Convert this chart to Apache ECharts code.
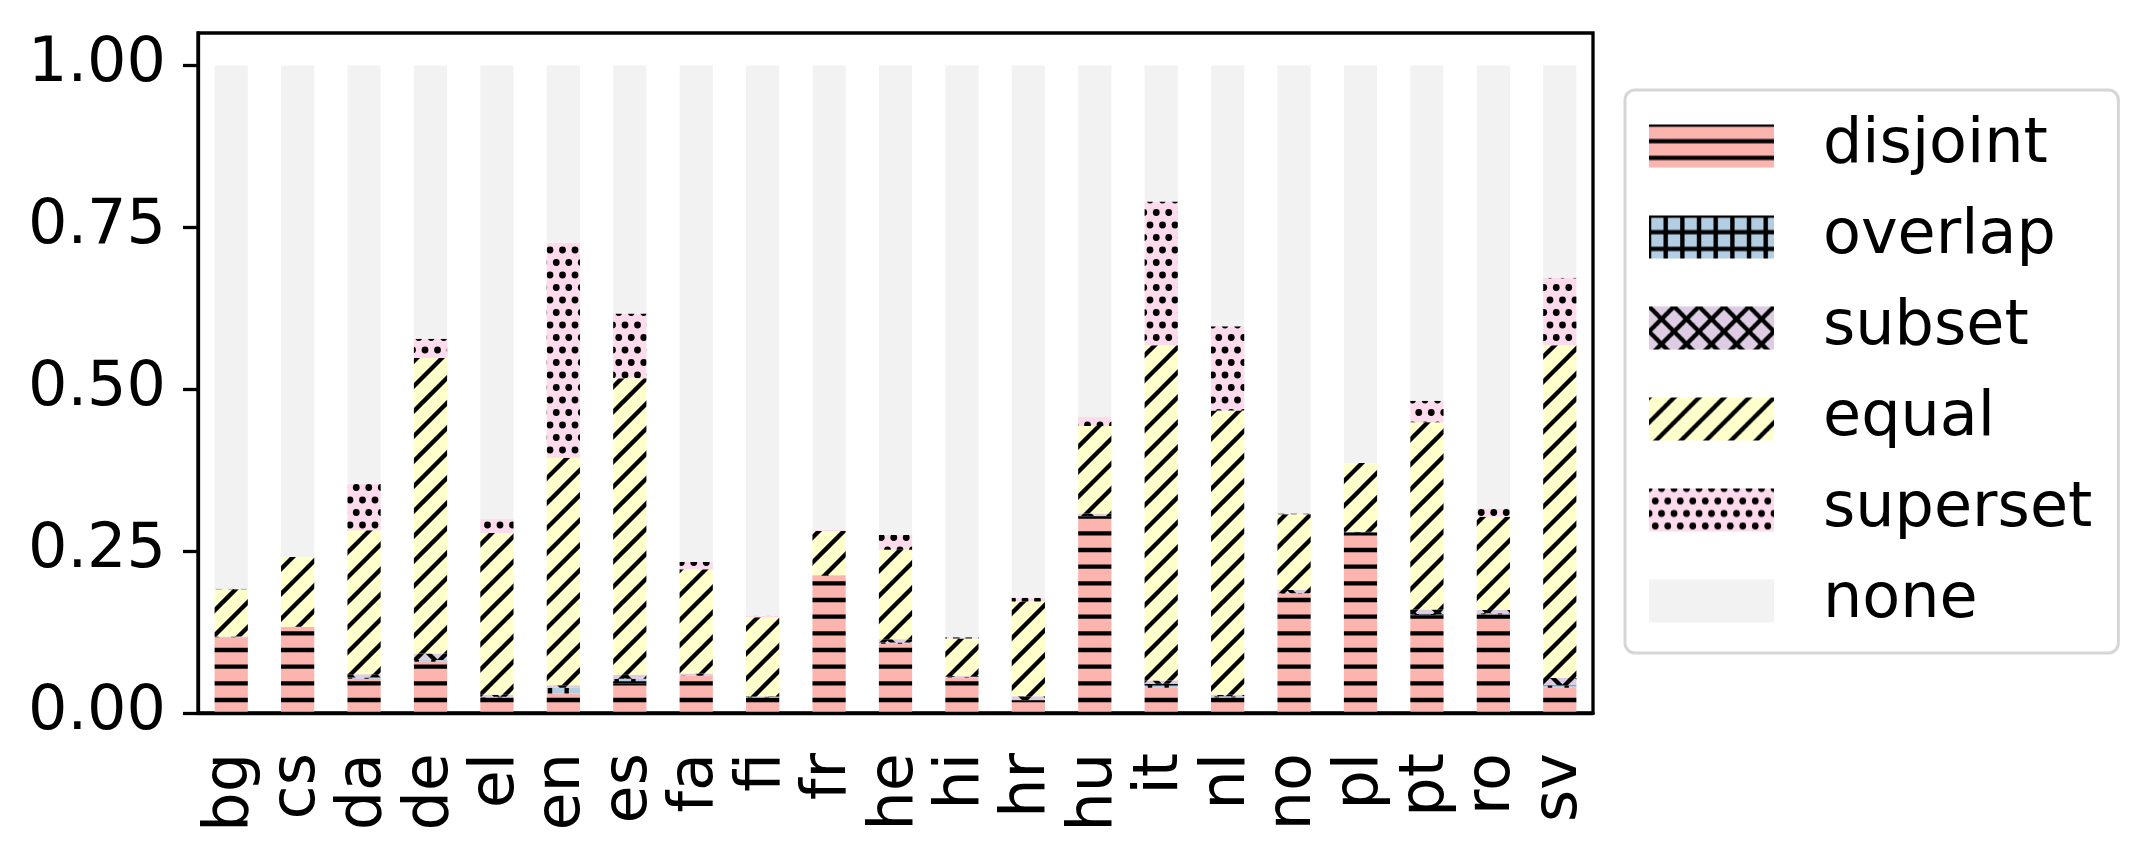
<!DOCTYPE html>
<html><head><meta charset="utf-8">
<script src="https://cdn.jsdelivr.net/npm/echarts@6/dist/echarts.min.js"></script>
<style>html,body{margin:0;padding:0;background:#fff}#c{width:2150px;height:851px}</style>
</head><body><div id="c"></div>
<script>
const categories = ['bg','cs','da','de','el','en','es','fa','fi','fr','he','hi','hr','hu','it','nl','no','pl','pt','ro','sv'];
const disjoint = [0.117,0.133,0.053,0.079,0.024,0.030,0.046,0.057,0.024,0.212,0.107,0.055,0.019,0.303,0.039,0.024,0.184,0.279,0.150,0.152,0.039];
const overlap  = [0.001,0.000,0.002,0.003,0.001,0.009,0.007,0.001,0.001,0.000,0.002,0.001,0.001,0.001,0.006,0.002,0.001,0.000,0.003,0.002,0.004];
const subset   = [0.000,0.000,0.005,0.010,0.003,0.004,0.006,0.003,0.001,0.001,0.005,0.001,0.006,0.004,0.005,0.002,0.005,0.001,0.007,0.005,0.011];
const equal    = [0.073,0.108,0.222,0.456,0.250,0.351,0.458,0.161,0.122,0.068,0.138,0.058,0.146,0.135,0.518,0.439,0.117,0.106,0.289,0.144,0.514];
const superset = [0.001,0.000,0.072,0.030,0.022,0.332,0.100,0.011,0.002,0.002,0.023,0.002,0.006,0.014,0.222,0.130,0.001,0.000,0.033,0.012,0.104];
const none     = [0.808,0.759,0.646,0.422,0.700,0.274,0.383,0.767,0.850,0.717,0.725,0.883,0.822,0.543,0.210,0.403,0.692,0.614,0.518,0.685,0.328];
const seriesNames = ['disjoint','overlap','subset','equal','superset','none'];
const yTicks = [0, 0.25, 0.5, 0.75, 1.0];

const FONT = 'DejaVu Sans';
const LW = 4.4;

function tile(size, bg, draw) {
  const c = document.createElement('canvas');
  c.width = size; c.height = size;
  const g = c.getContext('2d');
  g.fillStyle = bg; g.fillRect(0, 0, size, size);
  g.strokeStyle = '#000'; g.fillStyle = '#000'; g.lineWidth = LW; g.lineCap = 'square';
  draw(g, size);
  return { image: c, repeat: 'repeat' };
}
function hLines(g, s, step) {
  for (let y = 0; y <= s + 0.01; y += step) { g.beginPath(); g.moveTo(-5, y); g.lineTo(s + 5, y); g.stroke(); }
}
function vLines(g, s, step) {
  for (let x = 0; x <= s + 0.01; x += step) { g.beginPath(); g.moveTo(x, -5); g.lineTo(x, s + 5); g.stroke(); }
}
function neLines(g, s, step) {
  for (let k = -2; k * step <= s + step; k++) {
    const x0 = k * step;
    g.beginPath(); g.moveTo(x0 - s, 2 * s); g.lineTo(x0 + 2 * s, -s); g.stroke();
  }
}
function nwLines(g, s, step) {
  for (let k = -2; k * step <= s + step; k++) {
    const x0 = k * step;
    g.beginPath(); g.moveTo(x0 - s, -s); g.lineTo(x0 + 2 * s, 2 * s); g.stroke();
  }
}

const patterns = {
  disjoint: tile(50, '#fbb4ae', (g, s) => hLines(g, s, 50 / 3)),
  overlap: tile(50, '#b3cde3', (g, s) => { hLines(g, s, 50 / 3); vLines(g, s, 50 / 3); }),
  subset: tile(50, '#decbe4', (g, s) => { neLines(g, s, 25); nwLines(g, s, 25); }),
  equal: tile(50, '#ffffcc', (g, s) => neLines(g, s, 25)),
  superset: tile(25, '#fddaec', (g, s) => {
    const pts = [[0,0],[12.5,0],[25,0],[6.25,12.5],[18.75,12.5],[0,25],[12.5,25],[25,25]];
    pts.forEach(p => { g.beginPath(); g.arc(p[0], p[1], 3.4, 0, Math.PI * 2); g.fill(); });
  }),
  none: '#f2f2f2'
};
const values = { disjoint, overlap, subset, equal, superset, none };

const chart = echarts.init(document.getElementById('c'), null, { renderer: 'canvas' });
chart.setOption({
  animation: false,
  backgroundColor: '#fff',
  grid: { left: 198, right: 557, top: 33, bottom: 138, show: true, borderColor: '#000', borderWidth: 3.3, backgroundColor: 'transparent' },
  xAxis: {
    type: 'category', data: categories, boundaryGap: true, z: 10,
    axisLine: { lineStyle: { color: '#000', width: 3.3 } },
    axisTick: { alignWithLabel: true, length: 15, lineStyle: { color: '#000', width: 3.3 } },
    axisLabel: { rotate: 90, margin: 40, fontSize: 62, fontFamily: FONT, color: '#000', interval: 0 }
  },
  yAxis: {
    type: 'value', min: 0, max: 1.05, z: 10,
    axisLine: { show: true, lineStyle: { color: '#000', width: 3.3 } },
    axisTick: { show: true, length: 15, customValues: yTicks, lineStyle: { color: '#000', width: 3.3 } },
    axisLabel: { customValues: yTicks, formatter: v => v.toFixed(2), margin: 32, fontSize: 62, fontFamily: FONT, color: '#000' },
    splitLine: { show: false }
  },
  legend: {
    orient: 'vertical', left: 1625, top: 90, icon: 'rect',
    itemWidth: 125, itemHeight: 43, itemGap: 29,
    padding: [25, 26, 21, 24],
    borderColor: '#d6d6d6', borderWidth: 3, borderRadius: 10, backgroundColor: '#fff',
    selectedMode: false,
    textStyle: { fontSize: 62, fontFamily: FONT, color: '#000', padding: [0, 0, 0, 44] },
    data: seriesNames
  },
  series: seriesNames.map(n => ({
    name: n, type: 'bar', stack: 'all', barWidth: '50%',
    data: values[n],
    itemStyle: { color: patterns[n] },
    emphasis: { disabled: true }
  }))
});
</script></body></html>
